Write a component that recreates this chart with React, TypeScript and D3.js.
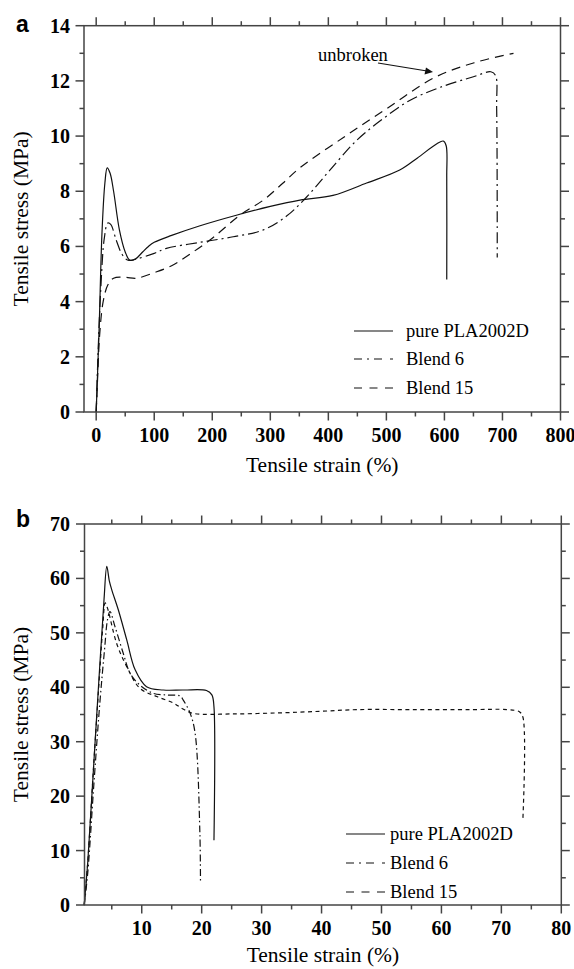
import React from "react";
import * as d3 from "d3";

type Pt = [number, number];

// ---------- Panel a data (strain %, stress MPa) ----------
const pureA: Pt[] = [
  [0, 0], [5, 3.0], [10, 6.5], [15, 8.3], [19, 8.85], [24, 8.65], [30, 8.0], [40, 6.6],
  [50, 5.8], [58, 5.5], [68, 5.55], [80, 5.8], [90, 6.0], [100, 6.15], [130, 6.4],
  [179, 6.75], [243, 7.14], [300, 7.45], [351, 7.68], [408, 7.85], [466, 8.3],
  [523, 8.77], [553, 9.2], [587, 9.72], [598, 9.82], [603, 9.65], [604, 8.5], [604, 4.8],
];
const blend6A: Pt[] = [
  [0, 0], [3, 2.0], [8, 4.5], [14, 6.3], [20, 6.85], [25, 6.8], [35, 6.2], [45, 5.7],
  [55, 5.5], [70, 5.55], [100, 5.75], [121, 5.93], [179, 6.15], [236, 6.35], [288, 6.6],
  [328, 7.1], [363, 7.8], [400, 8.7], [449, 9.85], [495, 10.64], [541, 11.3],
  [593, 11.77], [650, 12.15], [680, 12.33], [688, 12.2], [690, 11.0], [691, 5.6],
];
const blend15A: Pt[] = [
  [0, 0], [2, 1.0], [6, 2.8], [12, 4.0], [20, 4.6], [30, 4.85], [50, 4.88], [70, 4.85],
  [100, 5.05], [130, 5.3], [160, 5.7], [200, 6.3], [248, 7.14], [288, 7.68], [322, 8.3],
  [351, 8.85], [426, 9.95], [501, 11.0], [581, 12.1], [650, 12.65], [719, 13.0],
];

// ---------- Panel b data ----------
const pureB: Pt[] = [
  [0.4, 0], [1, 8], [2, 26], [3, 44], [3.7, 56], [4.17, 62.2], [4.6, 59.5], [5, 57.9],
  [6.1, 54.2], [7.5, 48.7], [8.9, 43.2], [10.8, 40.1], [13.6, 39.5], [17, 39.5],
  [20.8, 39.4], [21.7, 38.6], [22.05, 36.4], [22.05, 11.9],
];
const blend6B: Pt[] = [
  [0.4, 0], [1, 6], [2, 22], [3, 37], [3.8, 47], [4.3, 52.5], [4.7, 53.9], [5.55, 51.1],
  [6.9, 46.3], [8.05, 42.6], [9.7, 40.4], [11.9, 38.9], [14, 38.6], [16.4, 38.4],
  [16.9, 37.7], [18.05, 35.3], [18.9, 31.6], [19.7, 13.2], [19.8, 4.0],
];
const blend15B: Pt[] = [
  [0.4, 0], [1, 8], [2, 26], [3, 43], [3.5, 51], [3.9, 55.5], [4.3, 54.5], [5.8, 48.1],
  [7.5, 43.8], [9.7, 39.8], [12.5, 38.3], [15.3, 37.1], [16.9, 36.0], [18.6, 35.2],
  [25, 35.1], [33, 35.3], [40, 35.6], [46, 35.9], [55, 35.9], [65, 35.9], [71, 35.9],
  [73, 35.5], [73.6, 34.5], [73.6, 16],
];

// ---------- ticks / labels ----------
const xMajorA = [0, 100, 200, 300, 400, 500, 600, 700, 800];
const xMinorA = [50, 150, 250, 350, 450, 550, 650, 750];
const yMajorA = [0, 2, 4, 6, 8, 10, 12, 14];
const yMinorA = [1, 3, 5, 7, 9, 11, 13];
const xMajorB = [10, 20, 30, 40, 50, 60, 70, 80];
const xMinorB = [5, 15, 25, 35, 45, 55, 65, 75];
const yMajorB = [0, 10, 20, 30, 40, 50, 60, 70];
const yMinorB = [5, 15, 25, 35, 45, 55, 65];
const seriesNames = ["pure PLA2002D", "Blend 6", "Blend 15"];

const SERIF = "'Liberation Serif', 'Times New Roman', serif";
const SANS = "'Liberation Sans', Arial, sans-serif";
const FRAME = "#444";
const INK = "#111";

type PanelProps = {
  letter: string;
  letterY: number;
  xDomain: [number, number];
  yDomain: [number, number];
  left: number;
  right: number;
  top: number;
  bottom: number;
  titleOffset: number;
  xMajor: number[];
  xMinor: number[];
  yMajor: number[];
  yMinor: number[];
  series: Pt[][];
  curveDash: string[];
  legendDash: string[];
  legend: { x1: number; x2: number; tx: number; ys: number[] };
  children?: React.ReactNode;
};

function Panel(p: PanelProps) {
  const x = d3.scaleLinear().domain(p.xDomain).range([p.left, p.right]);
  const y = d3.scaleLinear().domain(p.yDomain).range([p.bottom, p.top]);
  const line = d3
    .line<Pt>()
    .x((d) => x(d[0]))
    .y((d) => y(d[1]))
    .curve(d3.curveCatmullRom.alpha(0.5));
  const MAJ = 8.5;
  const MIN = 4.5;
  const ticks: React.ReactNode[] = [];
  const addX = (v: number, len: number, k: string) => {
    const px = x(v);
    ticks.push(<line key={"xb" + k} x1={px} x2={px} y1={p.bottom} y2={p.bottom + len} />);
    ticks.push(<line key={"xt" + k} x1={px} x2={px} y1={p.top} y2={p.top - len} />);
  };
  const addY = (v: number, len: number, k: string) => {
    const py = y(v);
    ticks.push(<line key={"yl" + k} x1={p.left} x2={p.left - len} y1={py} y2={py} />);
    ticks.push(<line key={"yr" + k} x1={p.right} x2={p.right + len} y1={py} y2={py} />);
  };
  p.xMajor.forEach((v) => addX(v, MAJ, "M" + v));
  p.xMinor.forEach((v) => addX(v, MIN, "m" + v));
  p.yMajor.forEach((v) => addY(v, MAJ, "M" + v));
  p.yMinor.forEach((v) => addY(v, MIN, "m" + v));

  return (
    <g>
      <text x={16} y={p.letterY} fontFamily={SANS} fontWeight="bold" fontSize={23} fill="#000">
        {p.letter}
      </text>
      {p.series.map((s, i) => (
        <path
          key={i}
          d={line(s) || ""}
          fill="none"
          stroke={INK}
          strokeWidth={1.2}
          strokeDasharray={p.curveDash[i]}
        />
      ))}
      <g stroke={FRAME} strokeWidth={1.5} fill="none">
        <rect x={p.left} y={p.top} width={p.right - p.left} height={p.bottom - p.top} />
        {ticks}
      </g>
      <g fontFamily={SERIF} fontWeight="bold" fontSize={20} fill="#000">
        {p.xMajor.map((v) => (
          <text key={"xl" + v} x={x(v)} y={p.bottom + 30} textAnchor="middle">
            {v}
          </text>
        ))}
        {p.yMajor.map((v) => (
          <text key={"yl" + v} x={70} y={y(v)} textAnchor="end" dominantBaseline="central">
            {v}
          </text>
        ))}
      </g>
      <text
        x={(p.left + p.right) / 2}
        y={p.bottom + p.titleOffset}
        textAnchor="middle"
        fontFamily={SERIF}
        fontSize={21.5}
        fill="#000"
      >
        Tensile strain (%)
      </text>
      <text
        transform={`translate(21,${(p.top + p.bottom) / 2}) rotate(-90)`}
        textAnchor="middle"
        dominantBaseline="central"
        fontFamily={SERIF}
        fontSize={21.5}
        fill="#000"
      >
        Tensile stress (MPa)
      </text>
      {seriesNames.map((n, i) => (
        <g key={n}>
          <line
            x1={p.legend.x1}
            x2={p.legend.x2}
            y1={p.legend.ys[i]}
            y2={p.legend.ys[i]}
            stroke={INK}
            strokeWidth={1.2}
            strokeDasharray={p.legendDash[i]}
          />
          <text
            x={p.legend.tx}
            y={p.legend.ys[i]}
            dominantBaseline="central"
            fontFamily={SERIF}
            fontSize={18.5}
            fill="#000"
          >
            {n}
          </text>
        </g>
      ))}
      {p.children}
    </g>
  );
}

export default function App() {
  return (
    <svg
      width={574}
      height={969}
      viewBox="0 0 574 969"
      style={{ position: "absolute", left: 0, top: 0, background: "#fff" }}
    >
      <rect width={574} height={969} fill="#fff" />
      <Panel
        letter="a"
        letterY={31.5}
        xDomain={[-21, 800]}
        yDomain={[0, 14]}
        left={84}
        right={560.5}
        top={25.7}
        bottom={412}
        titleOffset={60}
        xMajor={xMajorA}
        xMinor={xMinorA}
        yMajor={yMajorA}
        yMinor={yMinorA}
        series={[pureA, blend6A, blend15A]}
        curveDash={["", "11,4,2,4", "9,6"]}
        legendDash={["", "8,5,2,5,8", "8,7.5"]}
        legend={{ x1: 354, x2: 393, tx: 406, ys: [331, 359, 388] }}
      >
        <text x={318} y={61} fontFamily={SERIF} fontSize={18.5} fill="#000">
          unbroken
        </text>
        <line x1={378} y1={63} x2={427} y2={71} stroke={INK} strokeWidth={1.2} />
        <path d="M433,72 L424.5,74.5 L426,67.5 Z" fill={INK} />
      </Panel>
      <Panel
        letter="b"
        letterY={527}
        xDomain={[0.45, 80]}
        yDomain={[0, 70]}
        left={84.5}
        right={561.3}
        top={524}
        bottom={905}
        titleOffset={57}
        xMajor={xMajorB}
        xMinor={xMinorB}
        yMajor={yMajorB}
        yMinor={yMinorB}
        series={[pureB, blend6B, blend15B]}
        curveDash={["", "7,3,1.5,3", "4,3.5"]}
        legendDash={["", "8,5,2,5,8", "8,7.5"]}
        legend={{ x1: 346, x2: 385, tx: 390, ys: [834, 863, 892] }}
      />
    </svg>
  );
}
